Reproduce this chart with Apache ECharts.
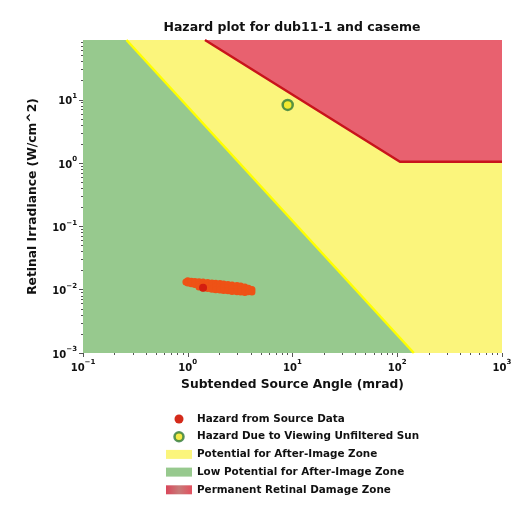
<!DOCTYPE html>
<html>
<head>
<meta charset="utf-8">
<script src="https://cdn.jsdelivr.net/npm/echarts@6/dist/echarts.min.js"></script>
<style>
html,body{margin:0;padding:0;background:#fff;}
#c{width:521px;height:510px;}
</style>
</head>
<body>
<div id="c"></div>
<script>
// ---- data ----
const xMajorTicks = [0.1, 1, 10, 100, 1000];
const yMajorTicks = [0.001, 0.01, 0.1, 1, 10];
const xMinorTicks = [0.2,0.3,0.4,0.5,0.6,0.7,0.8,0.9, 2,3,4,5,6,7,8,9, 20,30,40,50,60,70,80,90, 200,300,400,500,600,700,800,900];
const yMinorTicks = [0.002,0.003,0.004,0.005,0.006,0.007,0.008,0.009, 0.02,0.03,0.04,0.05,0.06,0.07,0.08,0.09, 0.2,0.3,0.4,0.5,0.6,0.7,0.8,0.9, 2,3,4,5,6,7,8,9, 20,30,40,50,60,70,80];
const xRange = [0.1, 1000];
const yRange = [0.001, 88];

// zone boundaries (mrad, W/cm^2)
const lowZoneX = [0.1, 0.26, 144];
const lowZoneY = [88, 88, 0.001];
const afterImageZoneX = [0.26, 144, 1000];
const afterImageZoneY = [88, 0.001, 0.001];
const afterImageLineX = [0.26, 144];
const afterImageLineY = [88, 0.001];
const damageZoneX = [1.46, 106, 1000];
const damageZoneY = [88, 1.05, 1.05];

// hazard from source data
const sourceX = [0.96, 1.0, 1.0, 1.08, 1.08, 1.17, 1.17, 1.28, 1.28, 1.28, 1.4, 1.4, 1.4, 1.55, 1.55, 1.55, 1.7, 1.7, 1.7, 1.85, 1.85, 1.85, 2.03, 2.03, 2.03, 2.2, 2.2, 2.2, 2.42, 2.42, 2.42, 2.65, 2.65, 2.65, 2.95, 2.95, 2.95, 3.2, 3.2, 3.2, 3.51, 3.51, 3.51, 3.8, 3.8, 4.1, 4.1];
const sourceY = [0.0132, 0.0138, 0.0128, 0.0136, 0.0124, 0.0135, 0.0121, 0.0134, 0.0121, 0.0110, 0.0132, 0.0118, 0.0106, 0.0130, 0.0116, 0.0104, 0.0128, 0.0115, 0.0102, 0.0127, 0.0113, 0.0100, 0.0125, 0.0112, 0.0099, 0.0123, 0.0110, 0.0097, 0.0121, 0.0108, 0.0096, 0.0119, 0.0106, 0.0094, 0.0117, 0.0104, 0.0093, 0.0114, 0.0101, 0.0092, 0.0110, 0.0098, 0.0090, 0.0105, 0.0093, 0.0101, 0.0092];
const sourceHighlight = [1.4, 0.0107];
// sun
const sunPoint = [9.0, 8.3];

const names = {
  source: 'Hazard from Source Data',
  sun: 'Hazard Due to Viewing Unfiltered Sun',
  after: 'Potential for After-Image Zone',
  low: 'Low Potential for After-Image Zone',
  damage: 'Permanent Retinal Damage Zone'
};

const zip = (a, b) => a.map((v, i) => [v, b[i]]);
const FONT = 'DejaVu Sans';
const GREEN = '#97c98e', YELLOW = '#fbf57c', RED = '#e8616f';

function powLabel(v) {
  const e = Math.round(Math.log10(v));
  return '{b|10}{s|' + (e < 0 ? '\u2212' : '') + Math.abs(e) + '}';
}
const richTick = {
  b: {fontSize: 10, fontWeight: 'bold', fontFamily: FONT, color: '#111', verticalAlign: 'bottom', lineHeight: 14},
  s: {fontSize: 7, fontWeight: 'bold', fontFamily: FONT, color: '#111', verticalAlign: 'top', lineHeight: 14}
};

function logAxis(range, major, minor, isX, main) {
  return {
    type: 'log', logBase: 10, min: range[0], max: range[1], gridIndex: 0,
    position: isX ? 'bottom' : 'left',
    axisLine: {show: false},
    splitLine: {show: false},
    minorTick: {show: false},
    axisTick: {show: true, inside: false, customValues: main ? major : minor, length: main ? 4 : 2, lineStyle: {color: '#555', width: 1}},
    axisLabel: main ? {show: true, customValues: major, formatter: powLabel, rich: richTick, margin: 6} : {show: false}
  };
}

const xMain = logAxis(xRange, xMajorTicks, xMinorTicks, true, true);
Object.assign(xMain, {name: 'Subtended Source Angle (mrad)', nameLocation: 'middle', nameGap: 26,
  nameTextStyle: {fontSize: 12.3, fontFamily: FONT, fontWeight: 'bold', color: '#111'}});
const yMain = logAxis(yRange, yMajorTicks, yMinorTicks, false, true);
Object.assign(yMain, {name: 'Retinal Irradiance (W/cm^2)', nameLocation: 'middle', nameGap: 44,
  nameTextStyle: {fontSize: 12.3, fontFamily: FONT, fontWeight: 'bold', color: '#111'}});

const chart = echarts.init(document.getElementById('c'), null, {renderer: 'canvas'});
chart.setOption({
  backgroundColor: '#fff',
  animation: false,
  title: {text: 'Hazard plot for dub11-1 and caseme', left: 292, top: 21, padding: 0, textAlign: 'center',
    textStyle: {fontSize: 12.5, fontFamily: FONT, fontWeight: 'bold', color: '#111'}},
  grid: {left: 83, right: 19, top: 40, bottom: 157, containLabel: false},
  xAxis: [xMain, logAxis(xRange, xMajorTicks, xMinorTicks, true, false)],
  yAxis: [yMain, logAxis(yRange, yMajorTicks, yMinorTicks, false, false)],
  legend: {
    orient: 'vertical', left: 166, top: 413, padding: 0,
    itemWidth: 26, itemHeight: 9, itemGap: 5.7,
    textStyle: {fontSize: 10.4, fontFamily: FONT, fontWeight: 'bold', color: '#111', lineHeight: 12},
    data: [
      {name: names.source, icon: 'circle', itemStyle: {color: '#d42a1a'}},
      {name: names.sun, icon: 'circle', itemStyle: {color: '#f2e61c', borderColor: '#2f7a3a', borderWidth: 2.5}},
      {name: names.after, icon: 'rect', itemStyle: {color: YELLOW}},
      {name: names.low, icon: 'rect', itemStyle: {color: GREEN}},
      {name: names.damage, icon: 'rect', itemStyle: {color: {type: 'linear', x: 0, y: 0, x2: 1, y2: 0,
        colorStops: [{offset: 0, color: '#d9465a'}, {offset: 0.5, color: '#c77a78'}, {offset: 1, color: '#e2505f'}]}}}
    ]
  },
  series: [
    {name: names.low, type: 'line', data: zip(lowZoneX, lowZoneY), symbol: 'none', silent: true, z: 1,
      itemStyle: {color: GREEN}, lineStyle: {width: 0, color: GREEN}, areaStyle: {color: GREEN, opacity: 1, origin: 'start'}},
    {name: names.after, type: 'line', data: zip(afterImageZoneX, afterImageZoneY), symbol: 'none', silent: true, z: 1,
      itemStyle: {color: YELLOW}, lineStyle: {width: 0, color: YELLOW}, areaStyle: {color: YELLOW, opacity: 1, origin: 'end'}},
    {name: names.damage, type: 'line', data: zip(damageZoneX, damageZoneY), symbol: 'none', silent: true, z: 2,
      itemStyle: {color: RED}, lineStyle: {width: 2.5, color: '#c8141c'}, areaStyle: {color: RED, opacity: 1, origin: 'end'}},
    {name: 'after-image boundary', type: 'line', data: zip(afterImageLineX, afterImageLineY), symbol: 'none', silent: true, z: 2,
      itemStyle: {color: '#ffff00'}, lineStyle: {width: 2.5, color: '#ffff00'}},
    {name: names.source, type: 'scatter', z: 3, symbolSize: 7,
      itemStyle: {color: '#ee5216', opacity: 1},
      data: zip(sourceX, sourceY).concat([{value: sourceHighlight, symbolSize: 8, itemStyle: {color: '#d41e10'}}])},
    {name: names.sun, type: 'scatter', z: 4, symbolSize: 10,
      itemStyle: {color: '#f2e61c', borderColor: '#2f7a3a', borderWidth: 2.5},
      data: [sunPoint]}
  ]
});
</script>
</body>
</html>
